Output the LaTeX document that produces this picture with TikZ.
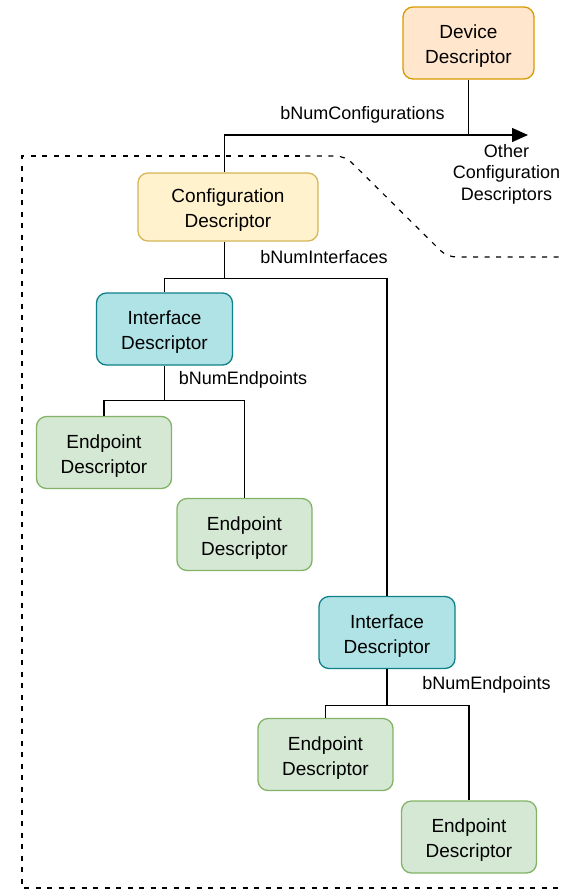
\documentclass[tikz,border=0pt]{standalone}
\usepackage{fontspec}
\setmainfont{Liberation Sans}
\usepackage{xcolor}
\usetikzlibrary{arrows.meta,positioning,calc}

\definecolor{devfill}{HTML}{FFE6CC}
\definecolor{devline}{HTML}{D79B00}
\definecolor{cfgfill}{HTML}{FFF2CC}
\definecolor{cfgline}{HTML}{D6B656}
\definecolor{iffill}{HTML}{B0E3E6}
\definecolor{ifline}{HTML}{0E8088}
\definecolor{epfill}{HTML}{D5E8D4}
\definecolor{epline}{HTML}{82B366}

% two-line box text, pushed a little down
\newcommand{\desctext}[2]{\rule{0pt}{20pt}#1\\#2}

\begin{document}
\begin{tikzpicture}[x=1pt, y=-1pt,
  desc/.style={rounded corners=10pt, line width=1.3pt, align=center,
    minimum width=135pt, minimum height=72pt, inner sep=0pt,
    font=\fontsize{19}{25}\selectfont},
  devbox/.style={desc, draw=devline, fill=devfill, minimum width=131pt},
  cfgbox/.style={desc, draw=cfgline, fill=cfgfill, minimum width=180pt, minimum height=68pt},
  ifbox/.style={desc, draw=ifline, fill=iffill, minimum width=136pt},
  epbox/.style={desc, draw=epline, fill=epfill},
  wire/.style={line width=1.3pt},
  boundary/.style={line width=1.2pt, dash pattern=on 5pt off 6.5pt},
  lbl/.style={inner sep=0pt, align=center, font=\fontsize{18}{21.5}\selectfont}]
\useasboundingbox (0,0) rectangle (565,892);
% dashed boundary of one configuration
\draw[boundary, rounded corners=9pt] (570,257) -- (447,257) -- (345,156) -- (300,156);
\draw[boundary] (300,156) -- (22,156) -- (22,888) -- (570,888);
% descriptors
\node[devbox] (dev) at (468.5,43) {\desctext{Device}{Descriptor}};
\node[cfgbox] (cfg) at (228,207) {\desctext{Configuration}{Descriptor}};
\node[ifbox] (if1) at (164.5,329) {\desctext{Interface}{Descriptor}};
\node[ifbox] (if2) at (387,632.5) {\desctext{Interface}{Descriptor}};
\node[epbox] (ep1) at (104,452.5) {\desctext{Endpoint}{Descriptor}};
\node[epbox] (ep2) at (244.5,534.5) {\desctext{Endpoint}{Descriptor}};
\node[epbox] (ep3) at (325.5,754.5) {\desctext{Endpoint}{Descriptor}};
\node[epbox] (ep4) at (469,837) {\desctext{Endpoint}{Descriptor}};
% device -> configurations
\coordinate (oc) at (528,135);
\draw[wire, -{Triangle[length=16pt,width=14pt]}] ([xshift=-3.5pt]cfg.north) |- (oc);
\draw[wire] (dev.south) -- (dev.south |- oc);
\node[lbl] (ncfg) at (362.5,115) {bNumConfigurations};
\node[lbl] (other) at (506.5,174) {Other\\Configuration\\Descriptors};
% configuration -> interfaces
\draw[wire] ([xshift=-3.5pt]cfg.south) -- ++(0,37) coordinate (cj);
\draw[wire] (if1.north) |- (cj) -| (if2.north);
\node[lbl] (nif) at (324,257) {bNumInterfaces};
% interfaces -> endpoints
\draw[wire] (if1.south) -- ++(0,34.5) coordinate (ij1);
\draw[wire] (ep1.north) |- (ij1) -| (ep2.north);
\node[lbl] (nep1) at (243,379.5) {bNumEndpoints};
\draw[wire] (if2.south) -- ++(0,36) coordinate (ij2);
\draw[wire] (ep3.north) |- (ij2) -| (ep4.north);
\node[lbl] (nep2) at (486.5,685) {bNumEndpoints};
\end{tikzpicture}
\end{document}
